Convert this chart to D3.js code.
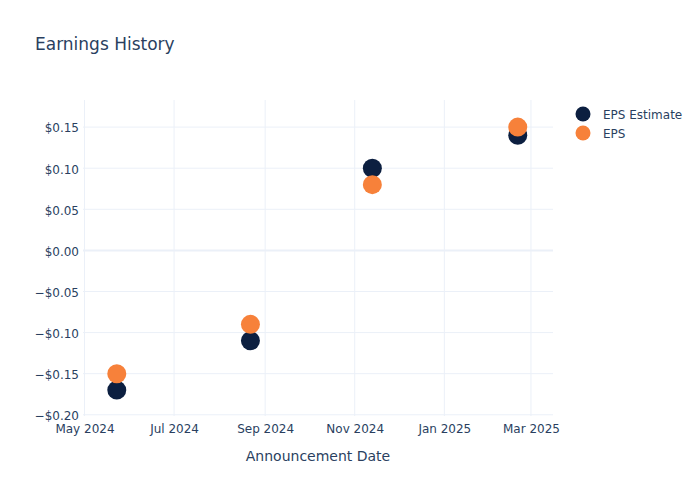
<!DOCTYPE html>
<html>
<head>
<meta charset="utf-8">
<script src="https://cdn.jsdelivr.net/npm/d3@7"></script>
<style>
  body { margin: 0; background: #fff; }
  text { font-family: "DejaVu Sans", Verdana, sans-serif; fill: #2a3f5f; }
</style>
</head>
<body>
<div id="chart"></div>
<script>
const dates = ["2024-05-23", "2024-08-22", "2024-11-13", "2025-02-20"];
const epsEstimate = [-0.17, -0.11, 0.10, 0.14];
const eps = [-0.15, -0.09, 0.08, 0.15];
const yTicks = [-0.2, -0.15, -0.1, -0.05, 0, 0.05, 0.1, 0.15];
const xTicks = ["2024-05-01", "2024-07-01", "2024-09-01", "2024-11-01", "2025-01-01", "2025-03-01"];
const seriesNames = ["EPS Estimate", "EPS"];
const seriesColors = ["#0c1f40", "#f7813a"];

const parseDate = d3.timeParse("%Y-%m-%d");

const dimensions = {
  width: 700,
  height: 500,
  margin: { top: 100, right: 147, bottom: 84, left: 83 },
};
dimensions.boundedWidth =
  dimensions.width - dimensions.margin.left - dimensions.margin.right;
dimensions.boundedHeight =
  dimensions.height - dimensions.margin.top - dimensions.margin.bottom;

const xScale = d3
  .scaleTime()
  .domain([parseDate("2024-04-30"), parseDate("2025-03-16")])
  .range([0, dimensions.boundedWidth]);
const yScale = d3
  .scaleLinear()
  .domain([-0.2015, 0.183])
  .range([dimensions.boundedHeight, 0]);

const wrapper = d3
  .select("#chart")
  .append("svg")
  .attr("width", dimensions.width)
  .attr("height", dimensions.height);

wrapper
  .append("text")
  .attr("x", 35)
  .attr("y", 50)
  .style("font-size", "17px")
  .text("Earnings History");

const bounds = wrapper
  .append("g")
  .attr("transform", `translate(${dimensions.margin.left},${dimensions.margin.top})`);

// grid
bounds
  .append("g")
  .selectAll("line")
  .data(xTicks.map(parseDate))
  .join("line")
  .attr("x1", (d) => xScale(d))
  .attr("x2", (d) => xScale(d))
  .attr("y1", 0)
  .attr("y2", dimensions.boundedHeight)
  .attr("stroke", "#ebf0f8")
  .attr("stroke-width", 1);
bounds
  .append("g")
  .selectAll("line")
  .data(yTicks)
  .join("line")
  .attr("x1", 0)
  .attr("x2", dimensions.boundedWidth)
  .attr("y1", (d) => yScale(d))
  .attr("y2", (d) => yScale(d))
  .attr("stroke", "#ebf0f8")
  .attr("stroke-width", (d) => (d === 0 ? 2 : 1));

const fmt = (d) => (d < 0 ? "\u2212" : "") + "$" + Math.abs(d).toFixed(2);

const yAxis = bounds
  .append("g")
  .call(d3.axisLeft(yScale).tickValues(yTicks).tickFormat(fmt).tickSize(0).tickPadding(4));
yAxis.select(".domain").remove();
yAxis.selectAll("text").style("font-size", "12px").attr("fill", "#2a3f5f").attr("dy", "0.4em");

const xAxis = bounds
  .append("g")
  .attr("transform", `translate(0,${dimensions.boundedHeight})`)
  .call(
    d3.axisBottom(xScale)
      .tickValues(xTicks.map(parseDate))
      .tickFormat(d3.timeFormat("%b %Y"))
      .tickSize(0)
      .tickPadding(8)
  );
xAxis.select(".domain").remove();
xAxis.selectAll("text").style("font-size", "12px").attr("fill", "#2a3f5f");

wrapper
  .append("text")
  .attr("x", dimensions.margin.left + dimensions.boundedWidth / 2)
  .attr("y", 461)
  .attr("text-anchor", "middle")
  .style("font-size", "14px")
  .text("Announcement Date");

// points
[epsEstimate, eps].forEach((vals, i) => {
  bounds
    .append("g")
    .selectAll("circle")
    .data(vals)
    .join("circle")
    .attr("cx", (d, j) => xScale(parseDate(dates[j])))
    .attr("cy", (d) => yScale(d))
    .attr("r", 9.5)
    .attr("fill", seriesColors[i]);
});

// legend
const legend = wrapper.append("g").attr("transform", "translate(583,114)");
seriesNames.forEach((name, i) => {
  const row = legend.append("g").attr("transform", `translate(0,${i * 19})`);
  row.append("circle").attr("r", 7.5).attr("fill", seriesColors[i]);
  row
    .append("text")
    .attr("x", 20)
    .attr("y", 4.5)
    .style("font-size", "12px")
    .text(name);
});
</script>
</body>
</html>
